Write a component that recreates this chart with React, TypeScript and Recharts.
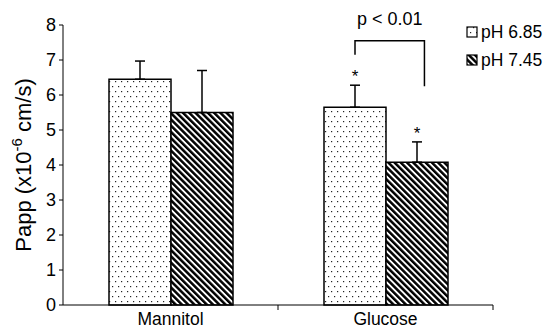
import React from "react";
import { BarChart, Bar, XAxis, YAxis, ErrorBar, LabelList, Label } from "recharts";

const categories = ["Mannitol", "Glucose"];
const seriesNames = ["pH 6.85", "pH 7.45"];
const ph685 = [6.45, 5.65];
const ph745 = [5.5, 4.08];
const err685 = [0.52, 0.63];
const err745 = [1.2, 0.58];
const sig685 = ["", "*"];
const sig745 = ["", "*"];
const yTicks = [0, 1, 2, 3, 4, 5, 6, 7, 8];

// significance bracket over the glucose pair (y values in axis units)
const bracketCategory = "Glucose";
const bracketTop = 7.55;
const bracketLeftEnd = 7.15;
const bracketRightEnd = 6.25;
const pValueText = "p < 0.01";
const pValueY = 8.0;

const data = categories.map((name, i) => ({
  name,
  a: ph685[i],
  b: ph745[i],
  ea: [0, err685[i]],
  eb: [0, err745[i]],
}));

const font = "'Liberation Sans', Arial, sans-serif";

const Patterns = ({ prefix }: { prefix: string }) => (
  <defs>
    <pattern id={prefix + "dots"} patternUnits="userSpaceOnUse" width={6} height={10}>
      <rect width={6} height={10} fill="#fff" />
      <rect x={1} y={1} width={1.2} height={1.2} fill="#222" />
      <rect x={4} y={6} width={1.2} height={1.2} fill="#222" />
    </pattern>
    <pattern
      id={prefix + "stripes"}
      patternUnits="userSpaceOnUse"
      width={4.4}
      height={4.4}
      patternTransform="rotate(-45)"
    >
      <rect width={4.4} height={4.4} fill="#fff" />
      <rect width={2.5} height={4.4} fill="#000" />
    </pattern>
  </defs>
);

const marks = (sigs: string[], errs: number[], bracketSide: "left" | "right") => (props: any) => {
  const vb = props.viewBox || {};
  const x = Number(props.x ?? vb.x);
  const y = Number(props.y ?? vb.y);
  const width = Number(props.width ?? vb.width);
  const height = Number(props.height ?? vb.height);
  const index = props.index;
  const value = Number(props.value);
  if (!value || index == null) return null;
  const perUnit = height / value;
  const zeroY = y + height;
  const yOf = (v: number) => zeroY - v * perUnit;
  const cx = x + width / 2;
  const out: React.ReactNode[] = [];
  if (sigs[index]) {
    out.push(
      <text key="s" x={cx} y={y - errs[index] * perUnit - 3} textAnchor="middle" fontSize={17} fontFamily={font} fill="#000">
        {sigs[index]}
      </text>
    );
  }
  if (categories[index] === bracketCategory && bracketSide === "left") {
    const rx = x + width * 1.62;
    out.push(
      <path
        key="b"
        d={`M${cx},${yOf(bracketLeftEnd)}V${yOf(bracketTop)}H${rx}V${yOf(bracketRightEnd)}`}
        fill="none"
        stroke="#000"
        strokeWidth={1.5}
      />
    );
    out.push(
      <text key="p" x={(cx + rx) / 2} y={yOf(pValueY)} textAnchor="middle" fontSize={18} fontFamily={font} fill="#000">
        {pValueText}
      </text>
    );
  }
  return <g>{out}</g>;
};

const CategoryTick = (props: any) => {
  const { x, y, payload } = props;
  const half = payload?.offset ?? 0;
  return (
    <g>
      <line x1={x + half} x2={x + half} y1={y} y2={y + 5} stroke="#000" />
      <text x={x} y={y + 20} textAnchor="middle" fontSize={17.5} fontFamily={font} fill="#000">
        {payload.value}
      </text>
    </g>
  );
};

const ValueTick = (props: any) => {
  const { x, y, payload } = props;
  return (
    <text x={x} y={y} dy={6} textAnchor="end" fontSize={18} fontFamily={font} fill="#000">
      {payload.value}
    </text>
  );
};

const YTitle = (props: any) => {
  const vb = props.viewBox || {};
  const cx = 23;
  const cy = vb.y + vb.height / 2;
  return (
    <text
      transform={`translate(${cx},${cy}) rotate(-90)`}
      textAnchor="middle"
      dominantBaseline="central"
      fontSize={22}
      fontFamily={font}
      fill="#000"
    >
      Papp (x10
      <tspan dy={-7} fontSize={15}>-6</tspan>
      <tspan dy={7}> cm/s)</tspan>
    </text>
  );
};

const LegendRow = ({ label, fill }: { label: string; fill: string }) => (
  <div style={{ display: "flex", alignItems: "center", height: 28 }}>
    <svg width={12} height={12} style={{ marginRight: 3 }}>
      <Patterns prefix="lg" />
      <rect x={1} y={1} width={10} height={10} fill={fill} stroke="#000" strokeWidth={1.2} />
    </svg>
    <span style={{ fontSize: 17.5, fontFamily: font, color: "#000" }}>{label}</span>
  </div>
);

export default function App() {
  return (
    <div style={{ position: "absolute", left: 0, top: 0, width: 551, height: 329, background: "#fff" }}>
      <BarChart
        width={551}
        height={329}
        data={data}
        margin={{ top: 25, right: 58, bottom: 0, left: 0 }}
        barCategoryGap={46}
        barGap={0}
      >
        <Patterns prefix="ch" />
        <XAxis
          dataKey="name"
          height={24}
          axisLine={{ stroke: "#000" }}
          tickLine={false}
          tickSize={0}
          tickMargin={0}
          tick={<CategoryTick />}
        />
        <YAxis
          width={63}
          domain={[0, 8]}
          ticks={yTicks}
          interval={0}
          axisLine={{ stroke: "#000" }}
          tickLine={{ stroke: "#000" }}
          tickSize={4}
          tickMargin={3}
          tick={<ValueTick />}
        >
          <Label content={<YTitle />} position="insideLeft" />
        </YAxis>
        <Bar dataKey="a" name={seriesNames[0]} fill="url(#chdots)" stroke="#000" strokeWidth={1.5} isAnimationActive={false}>
          <ErrorBar dataKey="ea" width={5} stroke="#000" strokeWidth={1.5} direction="y" />
          <LabelList dataKey="a" content={marks(sig685, err685, "left")} />
        </Bar>
        <Bar dataKey="b" name={seriesNames[1]} fill="url(#chstripes)" stroke="#000" strokeWidth={1.5} isAnimationActive={false}>
          <ErrorBar dataKey="eb" width={5} stroke="#000" strokeWidth={1.5} direction="y" />
          <LabelList dataKey="b" content={marks(sig745, err745, "right")} />
        </Bar>
      </BarChart>
      <div style={{ position: "absolute", left: 466, top: 18 }}>
        <LegendRow label={seriesNames[0]} fill="url(#lgdots)" />
        <LegendRow label={seriesNames[1]} fill="url(#lgstripes)" />
      </div>
    </div>
  );
}
